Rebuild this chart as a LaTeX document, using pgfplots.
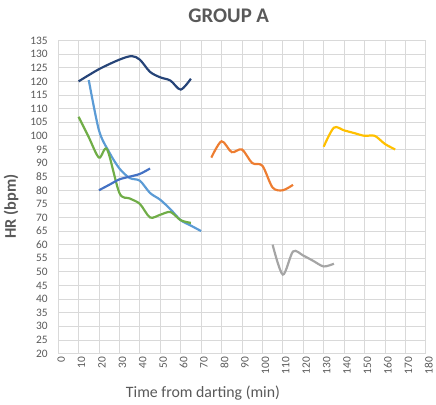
\documentclass[border=0pt]{standalone}
\usepackage{pgfplots}
\pgfplotsset{compat=1.18}
\usepackage{fontspec}
\setmainfont{Carlito}
\definecolor{txtgray}{HTML}{595959}
\definecolor{gridgray}{HTML}{D9D9D9}
\definecolor{cnavy}{HTML}{264478}
\definecolor{clblue}{HTML}{5B9BD5}
\definecolor{cgreen}{HTML}{70AD47}
\definecolor{cmblue}{HTML}{4472C4}
\definecolor{corange}{HTML}{ED7D31}
\definecolor{cgray}{HTML}{A5A5A5}
\definecolor{cyellow}{HTML}{FFC000}
\begin{document}
\begin{tikzpicture}
\path (-58.7bp,-51bp) rectangle (377.3bp,357bp);
\begin{axis}[
  at={(0,0)}, anchor=south west,
  scale only axis,
  width=371.3bp, height=316bp,
  xmin=0, xmax=180, ymin=20, ymax=135,
  xtick={0,10,...,180}, ytick={20,25,...,135},
  grid=major,
  major grid style={gridgray, line width=0.8bp},
  axis line style={gridgray, line width=0.8bp},
  major tick length=0pt,
  /pgf/number format/assume math mode=true,
  tick label style={font=\fontsize{11.5bp}{13bp}\selectfont, text=txtgray},
  x tick label style={rotate=90, anchor=east},
  xticklabel style={xshift=0bp, yshift=-3bp},
  yticklabel style={xshift=-7bp},
  clip=false,
  every axis plot/.append style={smooth, tension=0.5, line width=2.2bp, no marks},
]
\addplot[cnavy] coordinates {(10,120)(20,124.5)(30,128)(36,129.3)(40,128)(45,123.5)(50,121.5)(55,120.3)(60,117)(65,121)};
\addplot[clblue] coordinates {(15,120.5)(20,102)(25,94)(30,88)(35,84.5)(40,83.5)(45,79)(50,76.5)(55,73)(60,69)(65,67)(70,65)};
\addplot[cgreen] coordinates {(10,107)(15,99.5)(20,92)(24,95)(30,79)(35,77)(40,75)(45,70)(50,71)(55,72)(60,69)(65,68)};
\addplot[cmblue] coordinates {(20,80)(25,82)(30,84)(35,85)(40,86)(45,88)};
\addplot[corange] coordinates {(75,92)(80,98)(85,94)(90,95)(95,90)(100,89)(105,81)(110,80)(115,82)};
\addplot[cgray] coordinates {(105,60)(110,49)(115,57.5)(120,56)(125,54)(130,52)(135,53)};
\addplot[cyellow] coordinates {(130,96)(135,103)(140,102)(145,101)(150,100)(155,100)(160,97)(165,95)};
\node[font=\fontsize{21bp}{24bp}\selectfont\bfseries, text=txtgray] at (rel axis cs:0.464,1.08) {GROUP A};
\node[font=\fontsize{16.5bp}{19bp}\selectfont\bfseries, text=txtgray, rotate=90] at (rel axis cs:-0.128,0.47) {HR (bpm)};
\node[font=\fontsize{16bp}{19bp}\selectfont, text=txtgray] at (rel axis cs:0.394,-0.125) {Time from darting (min)};
\end{axis}
\end{tikzpicture}
\end{document}
